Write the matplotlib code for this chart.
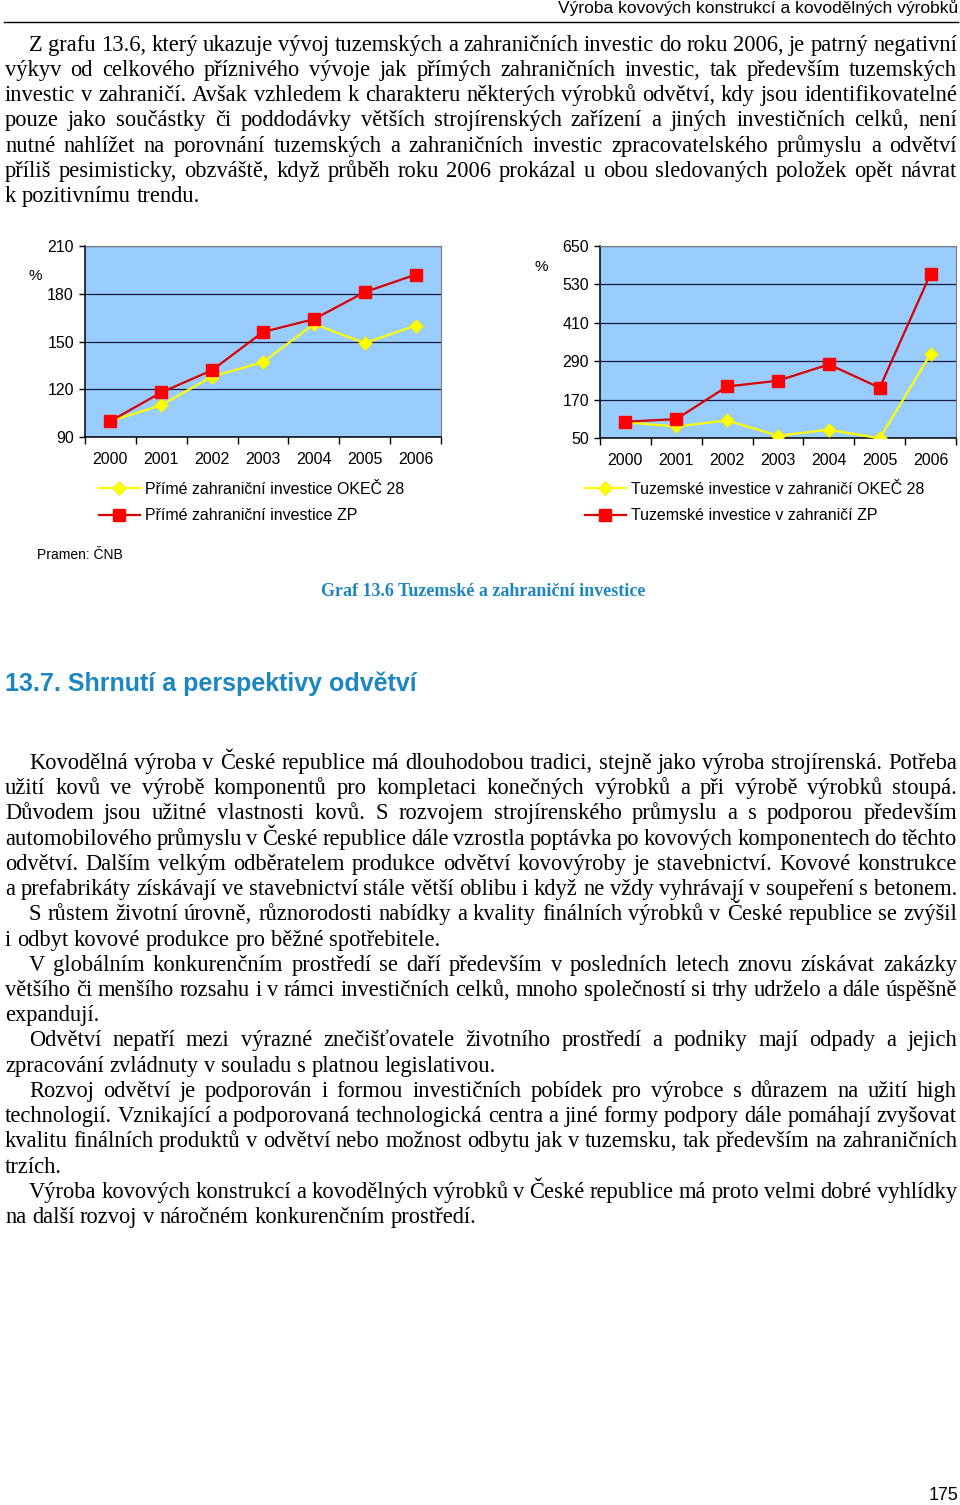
import matplotlib
matplotlib.use("Agg")
import matplotlib.pyplot as plt
import numpy as np
from matplotlib.lines import Line2D

# --- data -------------------------------------------------------------
years = ["2000", "2001", "2002", "2003", "2004", "2005", "2006"]

pzi_okec28 = [100, 110, 128, 137, 161, 149, 160]
pzi_zp = [100, 118, 132, 156, 164, 181, 192]
tiz_okec28 = [99, 86, 105, 57, 76, 49, 312]
tiz_zp = [101, 109, 211, 229, 280, 207, 563]

left_yticks = [90, 120, 150, 180, 210]
right_yticks = [50, 170, 290, 410, 530, 650]

left_labels = ["Přímé zahraniční investice OKEČ 28", "Přímé zahraniční investice ZP"]
right_labels = ["Tuzemské investice v zahraničí OKEČ 28", "Tuzemské investice v zahraničí ZP"]

header = "Výroba kovových konstrukcí a kovodělných výrobků"
source = "Pramen: ČNB"
caption = "Graf 13.6 Tuzemské a zahraniční investice"
heading = "13.7. Shrnutí a perspektivy odvětví"
page_no = "175"

# (text, indented, last line of paragraph)
para_top = [
    ("Z grafu 13.6, který ukazuje vývoj tuzemských a zahraničních investic do roku 2006, je patrný negativní", True, False),
    ("výkyv od celkového příznivého vývoje jak přímých zahraničních investic, tak především tuzemských", False, False),
    ("investic v zahraničí. Avšak vzhledem k charakteru některých výrobků odvětví, kdy jsou identifikovatelné", False, False),
    ("pouze jako součástky či poddodávky větších strojírenských zařízení a jiných investičních celků, není", False, False),
    ("nutné nahlížet na porovnání tuzemských a zahraničních investic zpracovatelského průmyslu a odvětví", False, False),
    ("příliš pesimisticky, obzváště, když průběh roku 2006 prokázal u obou sledovaných položek opět návrat", False, False),
    ("k pozitivnímu trendu.", False, True),
]
para_bottom = [
    ("Kovodělná výroba v České republice má dlouhodobou tradici, stejně jako výroba strojírenská. Potřeba", True, False),
    ("užití kovů ve výrobě komponentů pro kompletaci konečných výrobků a při výrobě výrobků stoupá.", False, False),
    ("Důvodem jsou užitné vlastnosti kovů. S rozvojem strojírenského průmyslu a s podporou především", False, False),
    ("automobilového průmyslu v České republice dále vzrostla poptávka po kovových komponentech do těchto", False, False),
    ("odvětví. Dalším velkým odběratelem produkce odvětví kovovýroby je stavebnictví. Kovové konstrukce", False, False),
    ("a prefabrikáty získávají ve stavebnictví stále větší oblibu i když ne vždy vyhrávají v soupeření s betonem.", False, False),
    ("S růstem životní úrovně, různorodosti nabídky a kvality finálních výrobků v České republice se zvýšil", True, False),
    ("i odbyt kovové produkce pro běžné spotřebitele.", False, True),
    ("V globálním konkurenčním prostředí se daří především v posledních letech znovu získávat zakázky", True, False),
    ("většího či menšího rozsahu i v rámci investičních celků, mnoho společností si trhy udrželo a dále úspěšně", False, False),
    ("expandují.", False, True),
    ("Odvětví nepatří mezi výrazné znečišťovatele životního prostředí a podniky mají odpady a jejich", True, False),
    ("zpracování zvládnuty v souladu s platnou legislativou.", False, True),
    ("Rozvoj odvětví je podporován i formou investičních pobídek pro výrobce s důrazem na užití high", True, False),
    ("technologií. Vznikající a podporovaná technologická centra a jiné formy podpory dále pomáhají zvyšovat", False, False),
    ("kvalitu finálních produktů v odvětví nebo možnost odbytu jak v tuzemsku, tak především na zahraničních", False, False),
    ("trzích.", False, True),
    ("Výroba kovových konstrukcí a kovodělných výrobků v České republice má proto velmi dobré vyhlídky", True, False),
    ("na další rozvoj v náročném konkurenčním prostředí.", False, True),
]

# --- page -------------------------------------------------------------
W, H = 960, 1505
SANS = "Liberation Sans"
SERIF = "Liberation Serif"
BLUE = "#1C86C2"

plt.rcParams["font.family"] = SANS
fig = plt.figure(figsize=(W / 100, H / 100), dpi=100)
renderer = fig.canvas.get_renderer()


def fx(x):
    return x / W


def fy(y):
    return 1 - y / H


def draw_chart(box, yticks, s1, s2, labels, legend_xy, pct_xy):
    left, top, right, bottom = box
    ax = fig.add_axes([fx(left), fy(bottom), (right - left) / W, (bottom - top) / H])
    ax.set_facecolor("#99CCFF")
    x = np.arange(len(years))
    ax.plot(x, s1, color="#FFFF00", lw=1.6, marker="D", ms=7,
            mfc="#FFFF00", mec="#E8E800", mew=0.5, label=labels[0], zorder=3)
    ax.plot(x, s2, color="#D80000", lw=1.6, marker="s", ms=8,
            mfc="#FF0000", mec="#FF0000", label=labels[1], zorder=4)
    ax.set_xlim(-0.5, len(years) - 0.5)
    ax.set_ylim(yticks[0], yticks[-1])
    ax.set_yticks(yticks)
    ax.set_xticks(x, years)
    ax.set_xticks(np.arange(-0.5, len(years)), minor=True)
    ax.tick_params(axis="x", which="major", length=0, pad=11, labelsize=11.5)
    ax.tick_params(axis="x", which="minor", length=5, width=1, direction="out")
    ax.tick_params(axis="y", length=4, width=1, labelsize=11.5, pad=4)
    ax.grid(axis="y", color="#1A1A3A", lw=0.9)
    for s in ("top", "right"):
        ax.spines[s].set_color("#7A7A7A")
    for s in ("left", "bottom"):
        ax.spines[s].set_linewidth(1.1)
    ax.legend(loc="upper left", bbox_to_anchor=(fx(legend_xy[0]), fy(legend_xy[1])),
              bbox_transform=fig.transFigure, frameon=False, fontsize=11.5,
              handlelength=2.55, handletextpad=0.3, labelspacing=0.7,
              borderpad=0, borderaxespad=0)
    fig.text(fx(pct_xy[0]), fy(pct_xy[1]), "%", fontsize=11, ha="center", va="center")
    return ax


draw_chart((85, 246, 441, 437), left_yticks, pzi_okec28, pzi_zp,
           left_labels, (99, 482), (35, 276))
draw_chart((600, 246, 956, 438), right_yticks, tiz_okec28, tiz_zp,
           right_labels, (585, 482), (541, 267))


# --- justified body text ---------------------------------------------
def make_words(lines, first_y, step):
    out = []
    for i, (line, indent, last) in enumerate(lines):
        words = [fig.text(0, 0, w, family=SERIF, fontsize=10, va="baseline")
                 for w in line.split(" ")]
        out.append((words, indent, last, first_y + i * step))
    return out


def widths(words):
    return [t.get_window_extent(renderer).width for t in words]


blocks = make_words(para_top, 51, 25.15) + make_words(para_bottom, 769, 25.22)

X0, X1, INDENT = 5, 957, 29
size = 100.0
for words, indent, last, _ in blocks:
    if last:
        continue
    start = X0 + (INDENT - X0) * indent
    natural = sum(widths(words)) + (len(words) - 1) * 0.2 * 10 * 100 / 72
    size = min(size, 10 * (X1 - start) / natural)
size *= 0.995

space = 0.25 * size * 100 / 72
for words, indent, last, base in blocks:
    for t in words:
        t.set_fontsize(size)
    ws = widths(words)
    start = X0 + (INDENT - X0) * indent
    gap = space if (last or len(words) < 2) else (X1 - start - sum(ws)) / (len(words) - 1)
    x = start
    for t, w in zip(words, ws):
        t.set_position((fx(x), fy(base)))
        x += w + gap

# --- other page elements ---------------------------------------------
fig.text(fx(958), fy(8), header, fontsize=12.5, ha="right", va="center")
fig.add_artist(Line2D([fx(4), fx(958)], [fy(22), fy(22)], color="black", lw=1,
                      transform=fig.transFigure))
fig.text(fx(37), fy(555), source, fontsize=10, va="center")
fig.text(fx(483), fy(592), caption, family=SERIF, fontsize=13, weight="bold",
         color=BLUE, ha="center", va="center")
fig.text(fx(5), fy(684), heading, fontsize=18, weight="bold", color=BLUE, va="center")
fig.text(fx(958), fy(1495), page_no, fontsize=13, ha="right", va="center")

fig.savefig("out.png", dpi=100)
